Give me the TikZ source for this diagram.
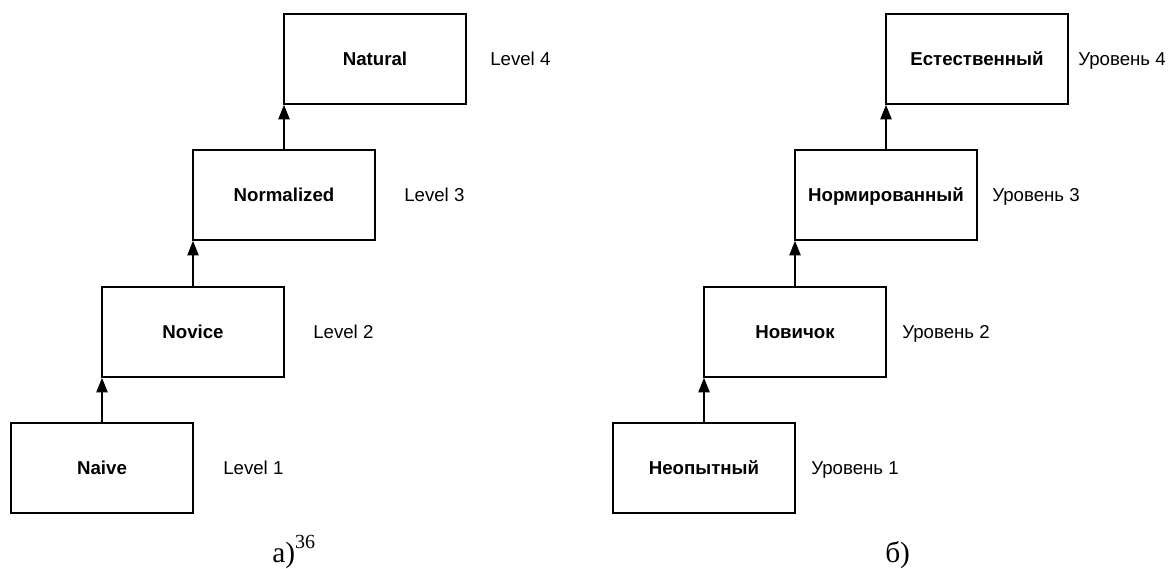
\documentclass[tikz,border=0pt]{standalone}
\usepackage{fontspec}
\setmainfont{Liberation Sans}
\newfontfamily\capfont{Liberation Serif}
\usetikzlibrary{arrows.meta}
\begin{document}
\begin{tikzpicture}[x=0.75pt,y=-0.75pt,
  levelbox/.style={draw, line width=1.2pt, minimum width=136.5pt, minimum height=67.5pt,
    inner sep=0pt, text height=10pt, text depth=0pt,
    font=\fontsize{14}{16}\selectfont\bfseries},
  levellabel/.style={anchor=base west, inner sep=0pt, font=\fontsize{14}{16}\selectfont},
  uparrow/.style={-{Triangle[length=11pt,width=8.5pt]}, line width=1.2pt},
  caption/.style={anchor=base west, inner sep=0pt, font=\capfont\fontsize{22}{26}\selectfont}]
\useasboundingbox (0,0) rectangle (1171,568);

% (a) English staircase
\node[levelbox] (naive)      at (102,468) {Naive};
\node[levelbox] (novice)     at (193,332) {Novice};
\node[levelbox] (normalized) at (284,195) {Normalized};
\node[levelbox] (natural)    at (375,59)  {Natural};

\node[levellabel] (lvA1) at (223,474) {Level 1};
\node[levellabel] (lvA2) at (313,338) {Level 2};
\node[levellabel] (lvA3) at (404,201) {Level 3};
\node[levellabel] (lvA4) at (490,65)  {Level 4};

\draw[uparrow] (naive.north) -- (naive.north |- novice.south);
\draw[uparrow] (novice.north) -- (novice.north |- normalized.south);
\draw[uparrow] (normalized.north) -- (normalized.north |- natural.south);

% (б) Russian staircase
\node[levelbox] (neop)   at (704,468) {Неопытный};
\node[levelbox] (novich) at (795,332) {Новичок};
\node[levelbox] (norm)   at (886,195) {Нормированный};
\node[levelbox] (estes)  at (977,59)  {Естественный};

\node[levellabel] (lvB1) at (811,474)  {Уровень 1};
\node[levellabel] (lvB2) at (902,338)  {Уровень 2};
\node[levellabel] (lvB3) at (992,201)  {Уровень 3};
\node[levellabel] (lvB4) at (1078,65)  {Уровень 4};

\draw[uparrow] (neop.north) -- (neop.north |- novich.south);
\draw[uparrow] (novich.north) -- (novich.north |- norm.south);
\draw[uparrow] (norm.north) -- (norm.north |- estes.south);

% captions
\node[caption] (capA) at (272,562) {а)\raisebox{10.5pt}{\fontsize{15}{17}\selectfont 36}};
\node[caption] (capB) at (885,562) {б)};
\end{tikzpicture}
\end{document}
